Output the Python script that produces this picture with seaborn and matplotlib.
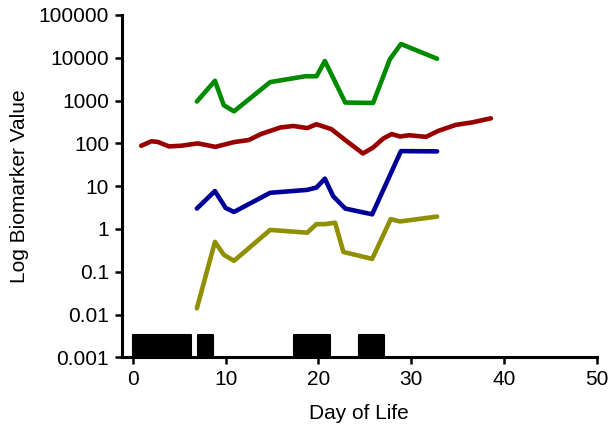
import numpy as np
import pandas as pd
import matplotlib
matplotlib.use("Agg")
import matplotlib.pyplot as plt
import seaborn as sns

# Series (day of life, biomarker value)
green_day = [6.9, 8.85, 9.8, 10.9, 14.8, 18.6, 19.8, 20.7, 22.9, 25.9, 27.7, 28.9, 32.8]
green_val = [950, 2900, 780, 560, 2700, 3700, 3700, 8400, 900, 880, 9200, 21000, 9500]

red_day = [0.9, 2.0, 2.7, 3.9, 5.2, 7.0, 8.9, 10.9, 12.5, 13.8, 15.9, 17.3, 18.8, 19.8,
           21.4, 23.0, 24.8, 25.9, 27.0, 27.9, 28.8, 29.8, 31.6, 32.9, 34.8, 36.6, 38.6]
red_val = [88, 112, 108, 85, 88, 100, 83, 107, 120, 165, 235, 255, 228, 280,
           215, 115, 58, 80, 130, 165, 145, 155, 142, 195, 270, 310, 385]

blue_day = [6.9, 8.85, 10.0, 10.9, 14.8, 18.8, 19.8, 20.7, 21.6, 22.9, 25.8, 28.9, 32.8]
blue_val = [3.0, 7.7, 3.1, 2.5, 7.0, 8.2, 9.3, 15, 5.8, 3.0, 2.2, 66, 65]

olive_day = [6.9, 8.85, 9.8, 10.9, 14.8, 18.8, 19.8, 20.7, 21.8, 22.7, 25.8, 27.8, 28.8, 32.8]
olive_val = [0.014, 0.5, 0.25, 0.18, 0.95, 0.82, 1.3, 1.3, 1.4, 0.29, 0.2, 1.7, 1.5, 1.95]

# Black blocks along the bottom (start day, length in days)
block_start = [0.0, 7.0, 17.4, 24.4]
block_len = [6.3, 1.6, 3.9, 2.7]

series = {
    "green": (green_day, green_val, "#008a00"),
    "red": (red_day, red_val, "#990000"),
    "blue": (blue_day, blue_val, "#000099"),
    "olive": (olive_day, olive_val, "#8f8f00"),
}

frames = []
for name, (d, v, _) in series.items():
    frames.append(pd.DataFrame({"day": d, "value": v, "series": name}))
df = pd.concat(frames, ignore_index=True)
palette = {name: c for name, (_, _, c) in series.items()}

sns.set_style("ticks", {"axes.edgecolor": "black", "text.color": "black",
                        "xtick.color": "black", "ytick.color": "black",
                        "axes.labelcolor": "black"})
plt.rcParams["font.family"] = ["Liberation Sans", "DejaVu Sans"]

fig = plt.figure(figsize=(6.16, 4.28), dpi=100)
ax = fig.add_axes([0.1976, 0.165, 0.771, 0.8])

sns.lineplot(data=df, x="day", y="value", hue="series", palette=palette,
             estimator=None, sort=False, linewidth=3.3, legend=False, ax=ax)

ax.broken_barh(list(zip(block_start, block_len)), (0.001, 0.0023),
               facecolors="black", edgecolor="black", linewidth=1.5,
               capstyle="round", joinstyle="round")

ax.set_yscale("log")
ax.set_xlim(-1.2, 50)
ax.set_ylim(0.001, 100000)
ax.set_xticks([0, 10, 20, 30, 40, 50])
yt = [0.001, 0.01, 0.1, 1, 10, 100, 1000, 10000, 100000]
ax.set_yticks(yt)
ax.set_yticklabels(["0.001", "0.01", "0.1", "1", "10", "100", "1000", "10000", "100000"])
ax.yaxis.set_minor_locator(matplotlib.ticker.NullLocator())

ax.tick_params(axis="both", direction="out", length=5, width=1.8, labelsize=15, pad=4)
for s in ["left", "bottom"]:
    ax.spines[s].set_linewidth(2.2)
sns.despine(ax=ax)

ax.set_xlabel("Day of Life", fontsize=15, labelpad=11)
ax.set_ylabel("Log Biomarker Value", fontsize=15, labelpad=7)

fig.savefig("out.png", dpi=100)
